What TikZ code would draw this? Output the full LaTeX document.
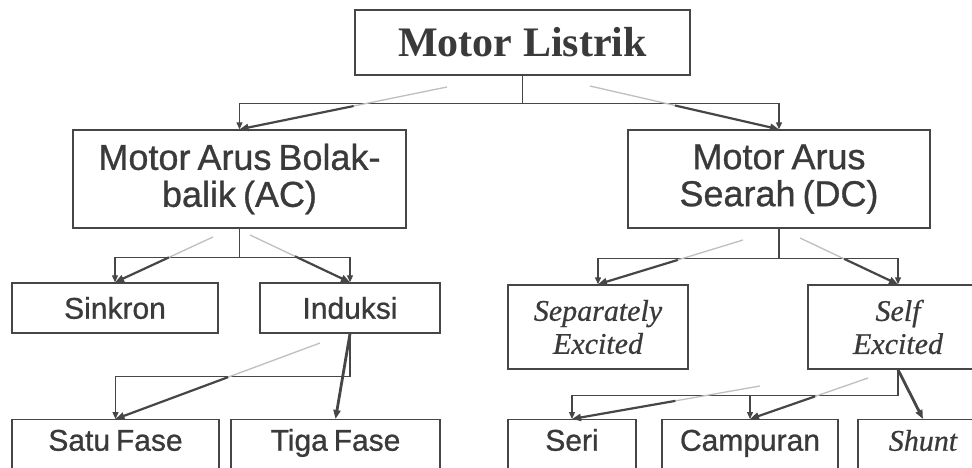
\documentclass[tikz,border=0pt]{standalone}
\usepackage{fontspec}
\setmainfont[ItalicFeatures={FakeBold=0.6}]{Liberation Serif}
\setsansfont[FakeBold=0.8,WordSpace=0.7]{Liberation Sans}
\usetikzlibrary{arrows.meta,calc}
\definecolor{ink}{HTML}{3A3A3A}
\definecolor{lin}{HTML}{464646}
\begin{document}
\begin{tikzpicture}[x=1pt,y=-1pt,
  box/.style={draw=lin,line width=1.4pt,inner sep=0pt,text=ink,align=center},
  bigsans/.style={font=\sffamily\fontsize{36}{37}\selectfont},
  smallsans/.style={font=\sffamily\fontsize{30}{33}\selectfont},
  smallit/.style={font=\itshape\fontsize{30}{33}\selectfont},
  lowbox/.style={anchor=north,text height=31pt,text depth=30pt},
  elbow/.style={draw=lin,line width=1.2pt},
  tip/.style={-{Triangle[length=7pt,width=6pt]}},
  fadeA/.style={draw=gray!50,line width=1.3pt},
  fadeB/.style={draw=lin,line width=2.2pt,-{Triangle[length=9pt,width=7pt]}}]
\useasboundingbox (0,0) rectangle (972,467);
\clip (0,0) rectangle (972,467);
\fill[white] (0,0) rectangle (972,467);

% boxes
\node[box,minimum width=335pt,minimum height=65pt,font=\bfseries\fontsize{42}{46}\selectfont] (ml) at (522.5,42.5) {Motor Listrik};
\node[box,bigsans,minimum width=333pt,minimum height=98pt] (ac) at (239.5,179) {Motor Arus Bolak-\\balik (AC)};
\node[box,bigsans,minimum width=302pt,minimum height=98pt] (dc) at (779,179) {Motor Arus\\Searah (DC)};
\node[box,smallsans,minimum width=206pt,minimum height=50pt] (sinkron) at (115,308) {Sinkron};
\node[box,smallsans,minimum width=180pt,minimum height=50pt] (induksi) at (350,308) {Induksi};
\node[box,smallit,minimum width=180pt,minimum height=84pt] (sep) at (598,327) {Separately\\Excited};
\node[box,smallit,minimum width=180pt,minimum height=84pt] (self) at (898,327) {Self\\Excited};
\node[box,smallsans,lowbox,minimum width=207pt] (satu) at (115.5,419) {Satu Fase};
\node[box,smallsans,lowbox,minimum width=209pt] (tiga) at (335.5,419) {Tiga Fase};
\node[box,smallsans,lowbox,minimum width=128pt] (seri) at (572,419) {Seri};
\node[box,smallsans,lowbox,minimum width=176pt] (campuran) at (750,419) {Campuran};
\node[box,smallit,lowbox,minimum width=130pt] (shunt) at (923,419) {Shunt};

% elbow connectors
\draw[elbow,tip] (ml.south) -- ++(0,28) -| (ac.north);
\draw[elbow,tip] (ml.south) ++(0,28) -| (dc.north);
\draw[elbow,tip] (ac.south) -- ++(0,29) -| (sinkron.north);
\draw[elbow,tip] (ac.south) ++(0,29) -| (induksi.north);
\draw[elbow,tip] (dc.south) -- ++(0,30) -| (sep.north);
\draw[elbow,tip] (dc.south) ++(0,30) -| (self.north);
\draw[elbow,tip] (induksi.south) -- ++(0,43) -| (satu.north);
\draw[elbow] (self.south) -- ++(0,26) coordinate (b5);
\draw[elbow,tip] (b5) -| (seri.north);
\draw[elbow,tip] (b5 -| campuran.north) -- (campuran.north);

% diagonal strokes
\coordinate (s1) at (447,87);
\coordinate (s2) at (590,86);
\coordinate (s3) at (213,237);
\coordinate (s4) at (250,235);
\coordinate (s5) at (743,240);
\coordinate (s6) at (800,238);
\coordinate (s7) at (320,343);
\coordinate (s8) at (868,378);
\coordinate (s9) at (760,386);
\foreach \s/\t in {s1/ac,s2/dc,s3/sinkron,s4/induksi,s5/sep,s6/self,s7/satu,s8/campuran,s9/seri}{
  \draw[fadeA] (\s) -- ($(\s)!0.45!(\t.north)$);
  \draw[fadeB] ($(\s)!0.45!(\t.north)$) -- (\t.north);
}
\draw[fadeB,line width=2.8pt] (induksi.south) -- (tiga.north);
\draw[fadeB,line width=2.8pt] (self.south) -- (shunt.north);
\end{tikzpicture}
\end{document}
